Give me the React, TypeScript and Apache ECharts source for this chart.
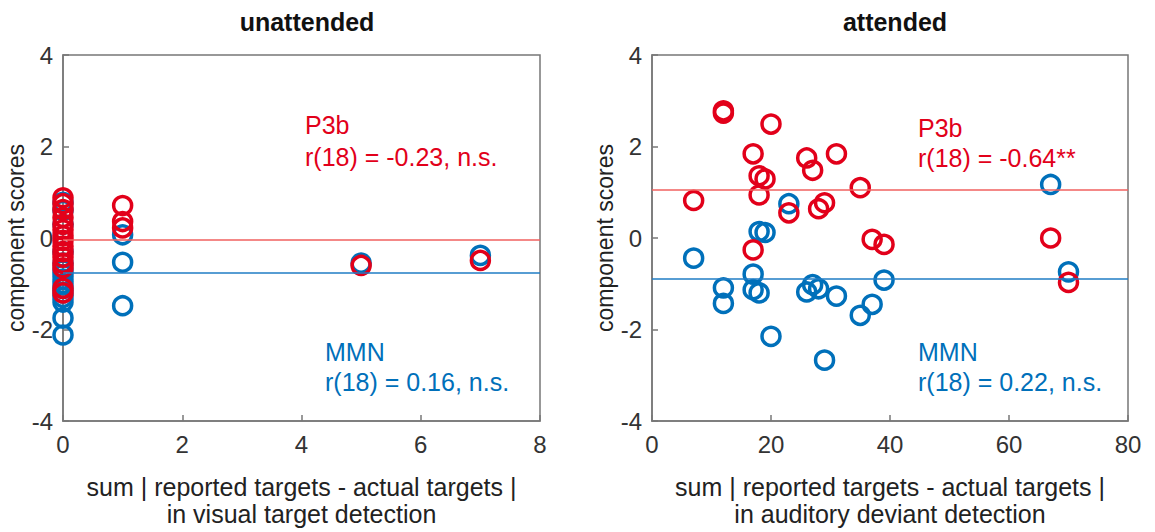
import React, { useEffect, useRef } from "react";
import * as echarts from "echarts";

// unattended panel (x: sum |reported - actual| in visual target detection)
const uX_P3b = [0, 0, 0, 0, 0, 0, 0, 0, 0, 0, 0, 0, 0, 0, 0, 1, 1, 1, 5, 7];
const uY_P3b = [0.88, 0.75, 0.62, 0.45, 0.3, 0.18, 0.05, -0.05, -0.18, -0.3, -0.42, -0.55, -0.65, -1.1, -1.2, 0.71, 0.36, 0.22, -0.6, -0.49];
const uX_MMN = [0, 0, 0, 0, 0, 0, 0, 0, 0, 0, 0, 0, 0, 0, 0, 1, 1, 1, 5, 7];
const uY_MMN = [0.78, 0.6, 0.3, -0.3, -0.55, -0.7, -0.8, -0.9, -1.0, -1.1, -1.2, -1.3, -1.4, -1.75, -2.12, 0.07, -0.53, -1.48, -0.55, -0.38];
const uMean_P3b = -0.03;
const uMean_MMN = -0.77;

// attended panel (x: sum |reported - actual| in auditory deviant detection)
const aX = [12, 12, 20, 17, 18, 19, 18, 7, 23, 26, 27, 31, 28, 29, 35, 17, 37, 39, 67, 70];
const aY_P3b = [2.73, 2.78, 2.49, 1.84, 1.36, 1.29, 0.94, 0.82, 0.55, 1.75, 1.48, 1.84, 0.64, 0.77, 1.1, -0.26, -0.03, -0.14, 0.0, -0.97];
const aY_MMN = [-1.09, -1.43, -2.15, -0.79, 0.14, 0.12, -1.2, -0.44, 0.75, -1.18, -1.02, -1.27, -1.11, -2.67, -1.69, -1.13, -1.45, -0.92, 1.17, -0.74];
const aMean_P3b = 1.05;
const aMean_MMN = -0.9;

const RED = "#E2001A";
const BLUE = "#0070BA";
const RED_LINE = "#F0605F";
const BLUE_LINE = "#1F7CC4";
const FONT = "Liberation Sans, Arial, sans-serif";

function zip(xs: number[], ys: number[]) {
  return xs.map((x, i) => [x, ys[i]]);
}

export default function App() {
  const ref = useRef<HTMLDivElement>(null);
  useEffect(() => {
    if (!ref.current) return;
    const chart = echarts.init(ref.current, null, { renderer: "svg" });
    const grids = [
      { left: 63, top: 55, width: 477, height: 377 },
      { left: 652, top: 55, width: 476, height: 377 },
    ];
    const axisLine = { show: true, onZero: false, lineStyle: { color: "#777", width: 1.5 } };
    const axisTick = { show: true, inside: true, length: 6, lineStyle: { color: "#777", width: 1.5 } };
    const xAxisCommon = {
      type: "value",
      axisLine,
      axisTick,
      splitLine: { show: false },
      axisLabel: { color: "#333", fontSize: 24, fontFamily: FONT, margin: 11 },
      nameLocation: "middle",
      nameGap: 52,
      nameTextStyle: { color: "#222", fontSize: 25, fontFamily: FONT, lineHeight: 27 },
    };
    const yAxisCommon = {
      type: "value",
      min: -4,
      max: 4,
      interval: 2,
      axisLine,
      axisTick,
      splitLine: { show: false },
      axisLabel: { color: "#333", fontSize: 24, fontFamily: FONT, margin: 10 },
      name: "component scores",
      nameLocation: "middle",
      nameGap: 30,
      nameTextStyle: { color: "#222", fontSize: 23, fontFamily: FONT },
    };
    const mk = (v: number, color: string, width: number) => ({
      silent: true,
      symbol: ["none", "none"],
      label: { show: false },
      emphasis: { disabled: true },
      lineStyle: { color, width, type: "solid", opacity: 1 },
      data: [{ yAxis: v, lineStyle: { color, width, type: "solid", opacity: 1 } }],
    });
    const scatter = (xi: number, data: number[][], color: string, mean: number, lineColor: string, lw: number) => ({
      type: "scatter",
      xAxisIndex: xi,
      yAxisIndex: xi,
      data,
      color,
      symbol: "circle",
      symbolSize: 18,
      itemStyle: { color: "transparent", borderColor: color, borderWidth: 3.5, opacity: 1 },
      markLine: mk(mean, lineColor, lw),
    });
    const textStyle = (color: string) => ({ fill: color, fontSize: 25, fontFamily: FONT });
    const titleStyle = { fontSize: 25, fontWeight: "bold", fontFamily: FONT, color: "#111" };
    chart.setOption({
      animation: false,
      title: [
        { text: "unattended", left: 302, top: 4, textAlign: "center", textStyle: titleStyle },
        { text: "attended", left: 890, top: 4, textAlign: "center", textStyle: titleStyle },
      ],
      grid: grids.map((g) => ({ ...g, show: true, borderColor: "#777", borderWidth: 1.5, backgroundColor: "transparent" })),
      xAxis: [
        { ...xAxisCommon, gridIndex: 0, min: 0, max: 8, interval: 2, name: "sum | reported targets - actual targets |\nin visual target detection" },
        { ...xAxisCommon, gridIndex: 1, min: 0, max: 80, interval: 20, name: "sum | reported targets - actual targets |\nin auditory deviant detection" },
      ],
      yAxis: [
        { ...yAxisCommon, gridIndex: 0 },
        { ...yAxisCommon, gridIndex: 1 },
      ],
      series: [
        scatter(0, zip(uX_MMN, uY_MMN), BLUE, uMean_MMN, BLUE_LINE, 1.5),
        scatter(0, zip(uX_P3b, uY_P3b), RED, uMean_P3b, RED_LINE, 1.5),
        scatter(1, zip(aX, aY_MMN), BLUE, aMean_MMN, BLUE_LINE, 1.5),
        scatter(1, zip(aX, aY_P3b), RED, aMean_P3b, RED_LINE, 1.5),
      ],
      graphic: [
        { type: "text", left: 305, top: 112, style: { text: "P3b", ...textStyle(RED) } },
        { type: "text", left: 305, top: 144, style: { text: "r(18) = -0.23, n.s.", ...textStyle(RED) } },
        { type: "text", left: 325, top: 339, style: { text: "MMN", ...textStyle(BLUE) } },
        { type: "text", left: 325, top: 369, style: { text: "r(18) = 0.16, n.s.", ...textStyle(BLUE) } },
        { type: "text", left: 918, top: 115, style: { text: "P3b", ...textStyle(RED) } },
        { type: "text", left: 918, top: 145, style: { text: "r(18) = -0.64**", ...textStyle(RED) } },
        { type: "text", left: 918, top: 339, style: { text: "MMN", ...textStyle(BLUE) } },
        { type: "text", left: 918, top: 369, style: { text: "r(18) = 0.22, n.s.", ...textStyle(BLUE) } },
      ],
    } as any);
    return () => chart.dispose();
  }, []);
  return <div ref={ref} style={{ position: "absolute", left: 0, top: 0, width: 1155, height: 532 }} />;
}
